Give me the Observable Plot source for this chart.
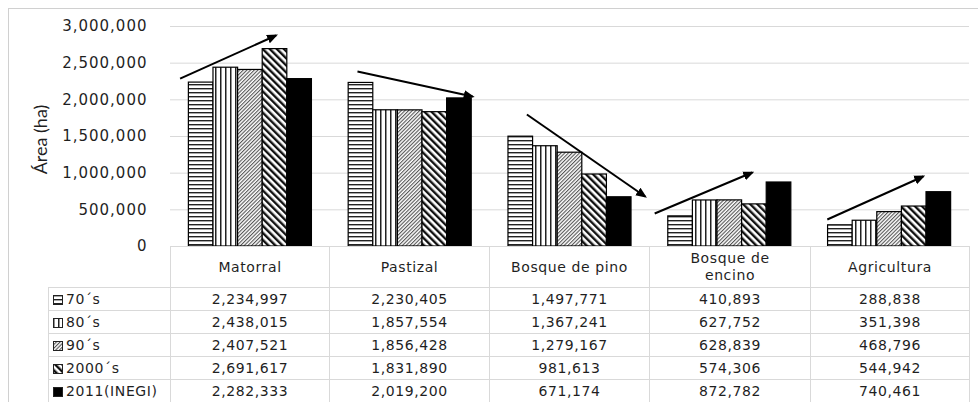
<!DOCTYPE html>
<html>
<head>
<meta charset="utf-8">
<script src="https://cdn.jsdelivr.net/npm/d3@7"></script>
<script src="https://cdn.jsdelivr.net/npm/@observablehq/plot@0.6"></script>
<style>
html, body { margin: 0; padding: 0; background: #fff; }
#wrap { position: relative; width: 978px; height: 402px; overflow: hidden; background: #fff; }
#chart { position: absolute; left: 0; top: 0; overflow: visible; }
#frame { position: absolute; left: 8px; top: 8px; width: 990px; height: 410px; border-left: 1px solid #d0d0d0; border-top: 1px solid #d0d0d0; pointer-events: none; z-index: 5; }
#tbl { position: absolute; left: 48px; top: 246px; width: 921px; border-collapse: collapse; table-layout: fixed;
  font-family: "DejaVu Sans", sans-serif; font-size: 14px; letter-spacing: 0.6px; color: #1f1f1f; }
#tbl td { border: 1px solid #d9d9d9; padding: 0; text-align: center; vertical-align: middle; white-space: nowrap; overflow: hidden; }
#tbl tr.hdr td { height: 40px; white-space: pre-line; line-height: 17px; }
#tbl tr.row td { height: 22px; }
#tbl td.corner { border-left: none; border-top: none; }
#tbl td.lab { text-align: left; padding-left: 4px; }
.key { display: inline-block; vertical-align: -1px; margin-right: 3px; }
</style>
</head>
<body>
<svg width="0" height="0" style="position:absolute">
  <defs>
    <pattern id="p70" patternUnits="userSpaceOnUse" width="8" height="4">
      <rect width="8" height="4" fill="#fff"/><rect y="0" width="8" height="1.4" fill="#222"/>
    </pattern>
    <pattern id="p80" patternUnits="userSpaceOnUse" width="5" height="8">
      <rect width="5" height="8" fill="#fff"/><rect x="0" width="1.5" height="8" fill="#222"/>
    </pattern>
    <pattern id="p90" patternUnits="userSpaceOnUse" width="2.6" height="8" patternTransform="rotate(45)">
      <rect width="2.6" height="8" fill="#fff"/><rect width="1.1" height="8" fill="#555"/>
    </pattern>
    <pattern id="p00" patternUnits="userSpaceOnUse" width="5" height="8" patternTransform="rotate(-45)">
      <rect width="5" height="8" fill="#fff"/><rect width="2.4" height="8" fill="#111"/>
    </pattern>
    <marker id="ahead" viewBox="0 0 10 10" refX="8" refY="5" markerWidth="5.5" markerHeight="5.5" orient="auto">
      <path d="M0,0.8 L10,5 L0,9.2 z" fill="#000"/>
    </marker>
  </defs>
</svg>
<div id="wrap"><div id="frame"></div></div>
<script>
// ---- data ----
const categories = ["Matorral", "Pastizal", "Bosque de pino", "Bosque de encino", "Agricultura"];
const headerLabels = ["Matorral", "Pastizal", "Bosque de pino", "Bosque de\nencino", "Agricultura"];
const seriesNames = ["70´s", "80´s", "90´s", "2000´s", "2011(INEGI)"];
const v70s   = [2234997, 2230405, 1497771, 410893, 288838];
const v80s   = [2438015, 1857554, 1367241, 627752, 351398];
const v90s   = [2407521, 1856428, 1279167, 628839, 468796];
const v2000s = [2691617, 1831890, 981613, 574306, 544942];
const v2011  = [2282333, 2019200, 671174, 872782, 740461];
const yTicks = [0, 500000, 1000000, 1500000, 2000000, 2500000, 3000000];
// trend arrows (category index, start/end offset within the category, start/end value)
const trendCategory    = [0, 1, 2, 3, 4];
const trendStartOffset = [-0.44, -0.33, -0.27, -0.47, -0.39];
const trendEndOffset   = [0.16, 0.39, 0.47, 0.14, 0.21];
const trendStartValue  = [2290000, 2386000, 1800000, 450000, 368000];
const trendEndValue    = [2877000, 2045000, 682000, 1009000, 955000];

// ---- build ----
const seriesValues = [v70s, v80s, v90s, v2000s, v2011];
const seriesFill = ["url(#p70)", "url(#p80)", "url(#p90)", "url(#p00)", "#000"];
const groupFrac = 0.77;
const bw = groupFrac / seriesNames.length;

const rows = seriesNames.flatMap((s, si) =>
  categories.map((c, ci) => ({series: s, si, category: c, ci, value: seriesValues[si][ci]})));
const trends = trendCategory.map((ci, i) => ({
  x1: ci + trendStartOffset[i], x2: ci + trendEndOffset[i],
  y1: trendStartValue[i], y2: trendEndValue[i]
}));

const fmt = d3.format(",");

const barMarks = seriesNames.map((s, si) =>
  Plot.rect(rows.filter(d => d.si === si), {
    x1: d => d.ci - groupFrac / 2 + d.si * bw,
    x2: d => d.ci - groupFrac / 2 + (d.si + 1) * bw,
    y1: 0,
    y2: d => d.value,
    fill: seriesFill[si],
    stroke: "#000",
    strokeWidth: 1.2
  }));

const chart = Plot.plot({
  width: 978,
  height: 260,
  marginLeft: 170,
  marginRight: 9,
  marginTop: 26,
  marginBottom: 14,
  x: {domain: [-0.5, categories.length - 0.5], axis: null},
  y: {domain: [0, 3000000], ticks: 6, tickFormat: fmt, tickSize: 0, tickPadding: 23, label: null},
  style: {fontFamily: "'DejaVu Sans', sans-serif", fontSize: "15px", letterSpacing: "1px", color: "#1f1f1f", background: "transparent", overflow: "visible"},
  marks: [
    Plot.ruleY(yTicks, {stroke: "#d9d9d9", strokeWidth: 1}),
    ...barMarks,
    Plot.link(trends, {x1: "x1", y1: "y1", x2: "x2", y2: "y2", stroke: "#000", strokeWidth: 2}),
    Plot.text(["Área (ha)"], {frameAnchor: "left", dx: -129, dy: 3, rotate: -90, textAnchor: "middle",
      fontSize: 18, fontFamily: "'Liberation Sans Narrow', Lato, sans-serif", fill: "#1f1f1f"})
  ]
});
chart.id = "chart";
d3.select(chart).selectAll("g[aria-label=link] path").attr("marker-end", "url(#ahead)");
d3.select(chart).selectAll("g[aria-label=text] text").style("letter-spacing", "0px");
document.getElementById("wrap").appendChild(chart);

// ---- data table under the chart ----
const tbl = d3.select("#wrap").append("table").attr("id", "tbl");
const cg = tbl.append("colgroup");
[122, 159, 160, 160, 161, 159].forEach(w => cg.append("col").style("width", w + "px"));
const hdr = tbl.append("tr").attr("class", "hdr");
hdr.append("td").attr("class", "corner");
headerLabels.forEach(h => hdr.append("td").text(h));
seriesNames.forEach((s, si) => {
  const tr = tbl.append("tr").attr("class", "row");
  const lab = tr.append("td").attr("class", "lab");
  const key = lab.append("svg").attr("class", "key").attr("width", 10).attr("height", 10);
  key.append("rect").attr("x", 0.5).attr("y", 0.5).attr("width", 9).attr("height", 9)
    .attr("fill", seriesFill[si]).attr("stroke", "#222").attr("stroke-width", 1);
  lab.append("span").text(s);
  seriesValues[si].forEach(v => tr.append("td").text(fmt(v)));
});
</script>
</body>
</html>
